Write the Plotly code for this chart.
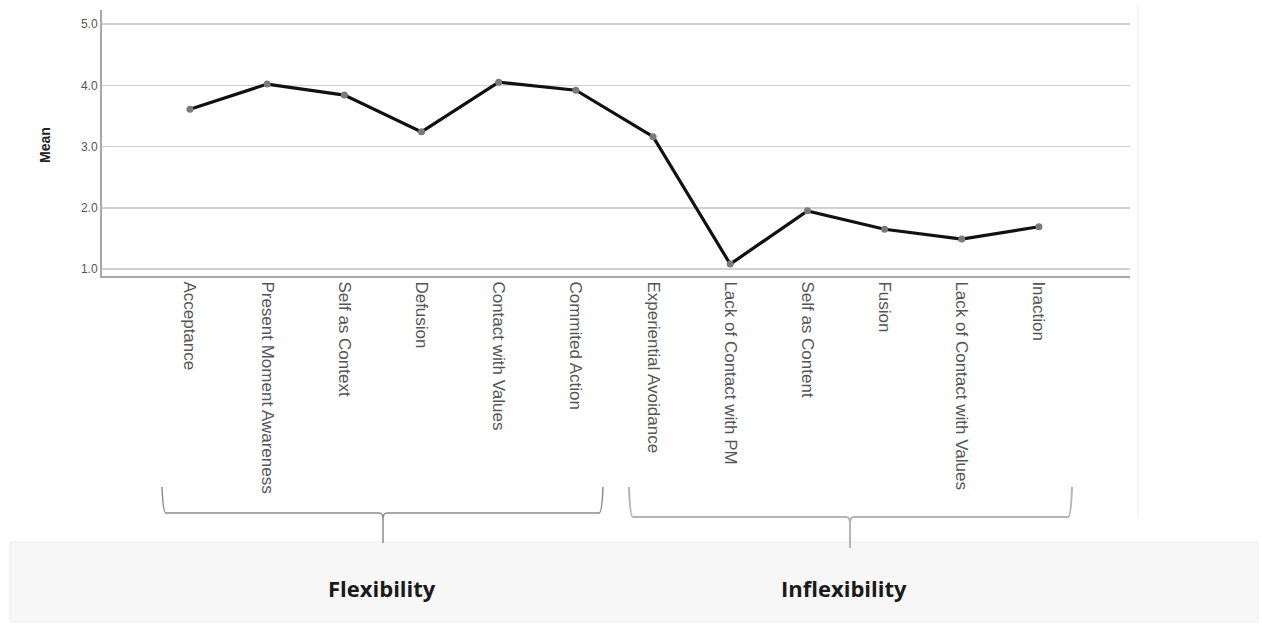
import plotly.graph_objects as go

categories = ["Acceptance", "Present Moment Awareness", "Self as Context", "Defusion",
              "Contact with Values", "Commited Action", "Experiential Avoidance",
              "Lack of Contact with PM", "Self as Content", "Fusion",
              "Lack of Contact with Values", "Inaction"]
means = [3.61, 4.02, 3.84, 3.24, 4.05, 3.92, 3.16, 1.08, 1.95, 1.65, 1.49, 1.69]
y_ticks = [1.0, 2.0, 3.0, 4.0, 5.0]
y_tick_labels = ["1.0", "2.0", "3.0", "4.0", "5.0"]
group_labels = ["Flexibility", "Inflexibility"]

W, H = 1262, 628
L, R, T, B = 102, 1130, 10, 276


def px(x):
    return (x - L) / (R - L)


def py(y):
    return (B - y) / (B - T)


fig = go.Figure()
fig.add_trace(go.Scatter(
    x=list(range(len(categories))), y=means, mode="lines+markers",
    line=dict(color="#111111", width=3.2),
    marker=dict(color="#7a7a7a", size=7),
    showlegend=False, hoverinfo="skip"))

shapes = []
# bottom gray band
shapes.append(dict(type="rect", xref="paper", yref="paper",
                   x0=px(10), x1=px(1258), y0=py(622), y1=py(542),
                   fillcolor="#f7f7f7", line=dict(color="#ececec", width=1), layer="below"))
# faint frame line on right
shapes.append(dict(type="line", xref="paper", yref="paper",
                   x0=px(1138), x1=px(1138), y0=py(5), y1=py(518),
                   line=dict(color="#eeeeee", width=1)))


def bracket(x0, x1, ytop, yh, xm, ybot, color, width):
    p = (f"M {px(x0)} {py(ytop)} Q {px(x0+1)} {py(yh)} {px(x0+4)} {py(yh)} "
         f"L {px(xm-4)} {py(yh)} Q {px(xm)} {py(yh)} {px(xm)} {py(yh+6)} "
         f"L {px(xm)} {py(ybot)} M {px(xm)} {py(yh+6)} Q {px(xm)} {py(yh)} {px(xm+4)} {py(yh)} "
         f"L {px(x1-4)} {py(yh)} Q {px(x1-1)} {py(yh)} {px(x1)} {py(ytop)}")
    return dict(type="path", xref="paper", yref="paper", path=p,
                line=dict(color=color, width=width))


shapes.append(bracket(162, 603, 487, 513, 383, 543, "#8c8c8c", 1.5))
shapes.append(bracket(629, 1072, 487, 517, 850, 548, "#b5b5b5", 2))

annotations = [
    dict(text="<b>Mean</b>", xref="paper", yref="paper", x=px(45), y=py(145),
         xanchor="center", yanchor="middle",
         textangle=-90, showarrow=False, font=dict(family="Liberation Sans", size=14, color="#222")),
]
for lab, cx in zip(group_labels, [382, 844]):
    annotations.append(dict(text=f"<b>{lab}</b>", xref="paper", yref="paper",
                            x=px(cx), y=py(588), xanchor="center", yanchor="middle",
                            showarrow=False,
                            font=dict(family="Open Sans", size=22, color="#1a1a1a")))

fig.update_layout(
    width=W, height=H, margin=dict(l=L, r=W - R, t=T, b=H - B),
    paper_bgcolor="white", plot_bgcolor="white",
    shapes=shapes, annotations=annotations,
    xaxis=dict(tickmode="array", tickvals=list(range(len(categories))), ticktext=categories,
               tickangle=90, range=[-1.14, 12.18], showgrid=False, zeroline=False,
               showline=True, linecolor="#a8a8a8", linewidth=2,
               tickfont=dict(family="Liberation Sans", size=17, color="#555555")),
    yaxis=dict(tickmode="array", tickvals=y_ticks, ticktext=y_tick_labels,
               range=[0.886, 5.23], showgrid=True, gridcolor="#d0d0d0", gridwidth=1.5,
               zeroline=False, showline=True, linecolor="#a8a8a8", linewidth=2,
               tickfont=dict(family="Liberation Sans", size=12, color="#555555")),
)

fig.write_html("out.html", config={"displayModeBar": False, "staticPlot": True},
               post_script="document.body.style.margin='0';document.body.style.overflow='hidden';")
